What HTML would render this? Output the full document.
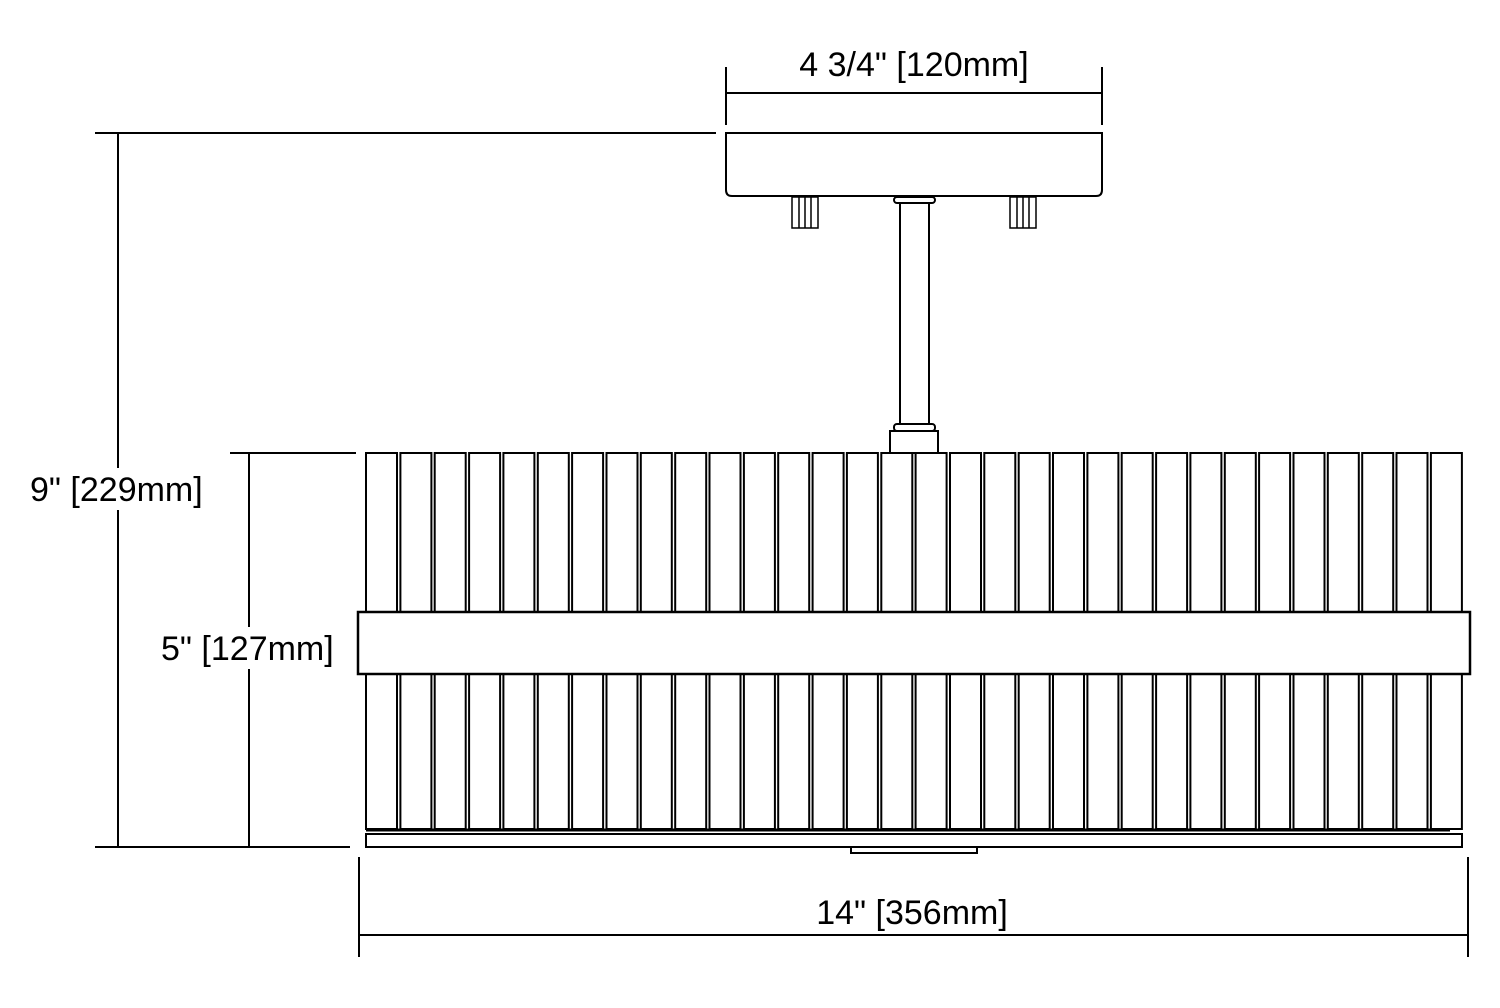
<!DOCTYPE html>
<html><head><style>html,body{margin:0;padding:0;background:#fff}svg{display:block}</style></head>
<body>
<svg width="1500" height="1008" viewBox="0 0 1500 1008" xmlns="http://www.w3.org/2000/svg" font-family="Liberation Sans, sans-serif">
<g fill="none" stroke="#000" stroke-width="2">
<line x1="726" y1="93" x2="1102" y2="93"/>
<line x1="726" y1="67" x2="726" y2="125"/>
<line x1="1102" y1="67" x2="1102" y2="125"/>
<path d="M726 133 H1102 V190 Q1102 196 1096 196 H732 Q726 196 726 190 Z"/>
<rect x="792" y="197" width="26" height="31" stroke-width="1.5"/>
<line x1="799" y1="197" x2="799" y2="228" stroke-width="1.5"/><line x1="805" y1="197" x2="805" y2="228" stroke-width="1.5"/><line x1="811" y1="197" x2="811" y2="228" stroke-width="1.5"/>
<rect x="1010" y="197" width="26" height="31" stroke-width="1.5"/>
<line x1="1017" y1="197" x2="1017" y2="228" stroke-width="1.5"/><line x1="1023" y1="197" x2="1023" y2="228" stroke-width="1.5"/><line x1="1029" y1="197" x2="1029" y2="228" stroke-width="1.5"/>
<rect x="894" y="197" width="41" height="6" rx="3"/>
<line x1="900" y1="203" x2="900" y2="424"/><line x1="929" y1="203" x2="929" y2="424"/>
<rect x="894" y="424" width="41" height="7" rx="3"/>
<rect x="890" y="431" width="48" height="22"/>
<line x1="95" y1="133" x2="716" y2="133"/>
<line x1="118" y1="133" x2="118" y2="847"/>
<line x1="95" y1="847" x2="350" y2="847"/>
<line x1="230" y1="453" x2="356" y2="453"/>
<line x1="249" y1="453" x2="249" y2="847"/>
<line x1="359" y1="935" x2="1468" y2="935"/>
<line x1="359" y1="857" x2="359" y2="957"/>
<line x1="1468" y1="857" x2="1468" y2="957"/>
<g stroke-width="2">
<rect x="366" y="453" width="31" height="376"/><rect x="400.4" y="453" width="31" height="376"/><rect x="434.7" y="453" width="31" height="376"/><rect x="469.1" y="453" width="31" height="376"/>
<rect x="503.4" y="453" width="31" height="376"/><rect x="537.8" y="453" width="31" height="376"/><rect x="572.1" y="453" width="31" height="376"/><rect x="606.5" y="453" width="31" height="376"/>
<rect x="640.8" y="453" width="31" height="376"/><rect x="675.2" y="453" width="31" height="376"/><rect x="709.5" y="453" width="31" height="376"/><rect x="743.9" y="453" width="31" height="376"/>
<rect x="778.2" y="453" width="31" height="376"/><rect x="812.6" y="453" width="31" height="376"/><rect x="846.9" y="453" width="31" height="376"/><rect x="881.3" y="453" width="31" height="376"/>
<rect x="915.6" y="453" width="31" height="376"/><rect x="950" y="453" width="31" height="376"/><rect x="984.3" y="453" width="31" height="376"/><rect x="1018.7" y="453" width="31" height="376"/>
<rect x="1053" y="453" width="31" height="376"/><rect x="1087.4" y="453" width="31" height="376"/><rect x="1121.7" y="453" width="31" height="376"/><rect x="1156.1" y="453" width="31" height="376"/>
<rect x="1190.4" y="453" width="31" height="376"/><rect x="1224.8" y="453" width="31" height="376"/><rect x="1259.1" y="453" width="31" height="376"/><rect x="1293.5" y="453" width="31" height="376"/>
<rect x="1327.8" y="453" width="31" height="376"/><rect x="1362.2" y="453" width="31" height="376"/><rect x="1396.5" y="453" width="31" height="376"/><rect x="1430.9" y="453" width="31" height="376"/>
</g>
<rect x="358" y="612" width="1112" height="62" fill="#fff" stroke-width="2.5"/>
<line x1="366" y1="830" x2="1450" y2="830" stroke-width="3"/>
<rect x="366" y="834" width="1096" height="13" fill="#fff"/>
<rect x="851" y="847" width="126" height="6"/>
</g>
<g fill="#fff">
<rect x="26" y="468" width="184" height="42"/>
<rect x="157" y="627" width="184" height="42"/>
</g>
<g font-size="34" fill="#000">
<text x="914" y="76" text-anchor="middle">4 3/4" [120mm]</text>
<text x="30" y="501">9" [229mm]</text>
<text x="161" y="660">5" [127mm]</text>
<text x="912" y="924" text-anchor="middle">14" [356mm]</text>
</g>
</svg>
</body></html>
